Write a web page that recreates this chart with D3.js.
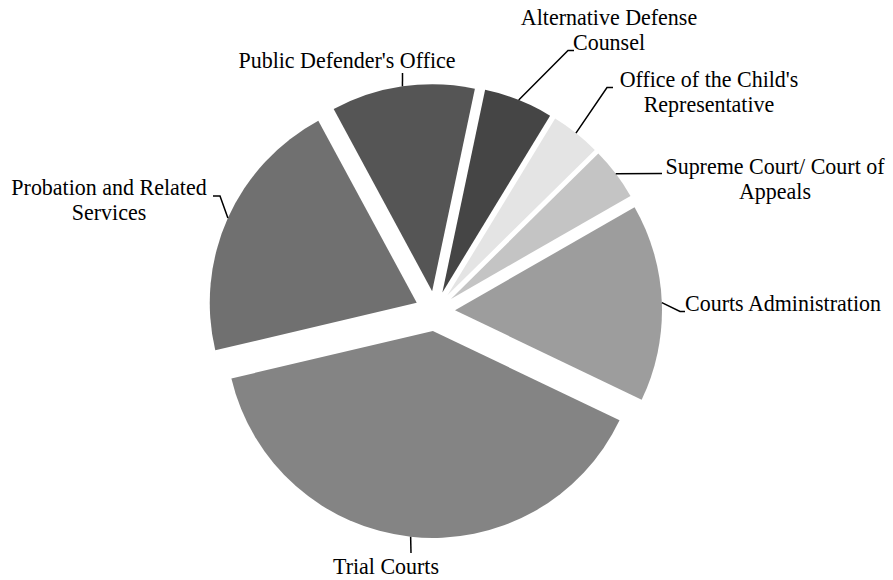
<!DOCTYPE html>
<html>
<head>
<meta charset="utf-8">
<script src="https://cdn.jsdelivr.net/npm/d3@7"></script>
<style>
  html, body { margin: 0; padding: 0; background: #ffffff; }
  svg { display: block; }
  text { font-family: "Liberation Serif", "Times New Roman", serif; font-size: 22px; fill: #000; }
</style>
</head>
<body>
<svg id="chart" width="893" height="580"></svg>
<script>
// ---- Data (clockwise order) ----
const categories = [
  "Supreme Court/ Court of Appeals",
  "Courts Administration",
  "Trial Courts",
  "Probation and Related Services",
  "Public Defender's Office",
  "Alternative Defense Counsel",
  "Office of the Child's Representative"
];
const shares = [4.1, 15.4, 39.2, 20.8, 11.2, 5.4, 3.9];
const labelLines = [
  ["Supreme Court/ Court of", "Appeals"],
  ["Courts Administration"],
  ["Trial Courts"],
  ["Probation and Related", "Services"],
  ["Public Defender's Office"],
  ["Alternative Defense", "Counsel"],
  ["Office of the Child's", "Representative"]
];
const fills = ["#c4c4c4", "#9d9d9d", "#848484", "#707070", "#555555", "#454545", "#e4e4e4"];

// ---- Layout ----
const W = 893, H = 580;
const cx = 435, cy = 311, R = 207, explode = 20;
const startDeg = 45.4;
const lineH = 25.5;
const textStretch = 1.08;
// label layout: text centre x, first baseline y, leader elbow points
const labelLayout = [
  { x: 775, y: 173.5, leader: [[662, 173.5]] },
  { x: 783, y: 310.5, leader: [[680, 311.5], [685, 311.5]] },
  { x: 386, y: 574, leader: [[411, 553]] },
  { x: 109, y: 195, leader: [[220, 196], [213, 196]] },
  { x: 347, y: 68, leader: [[402.5, 73]] },
  { x: 609, y: 25, leader: [[568, 50.5], [574, 50.5]] },
  { x: 709, y: 87, leader: [[607, 87.5], [613, 87.5]] }
];

const data = categories.map((c, i) => ({ name: c, value: shares[i], fill: fills[i], lines: labelLines[i], layout: labelLayout[i] }));

const svg = d3.select("#chart");
const g = svg.append("g").attr("transform", `translate(${cx},${cy})`);

const a0 = startDeg * Math.PI / 180;
const pie = d3.pie().sort(null).value(d => d.value).startAngle(a0).endAngle(a0 + 2 * Math.PI);
const arc = d3.arc().innerRadius(0).outerRadius(R);
const arcs = pie(data);

const offset = d => {
  const m = (d.startAngle + d.endAngle) / 2;
  return [explode * Math.sin(m), -explode * Math.cos(m)];
};

g.selectAll("path.slice")
  .data(arcs)
  .join("path")
  .attr("class", "slice")
  .attr("d", arc)
  .attr("fill", d => d.data.fill)
  .attr("transform", d => { const o = offset(d); return `translate(${o[0]},${o[1]})`; });

// leader lines (start at the slice's outer edge at its mid angle)
const line = d3.line();
svg.selectAll("path.leader")
  .data(arcs)
  .join("path")
  .attr("class", "leader")
  .attr("fill", "none")
  .attr("stroke", "#000")
  .attr("stroke-width", 1.5)
  .attr("d", d => {
    const m = (d.startAngle + d.endAngle) / 2;
    const rr = R + explode;
    const p0 = [cx + rr * Math.sin(m), cy - rr * Math.cos(m)];
    return line([p0, ...d.data.layout.leader]);
  });

// labels
const labelGroups = svg.selectAll("g.lbl")
  .data(data)
  .join("g")
  .attr("class", "lbl")
  .attr("transform", d => `translate(${d.layout.x},${d.layout.y}) scale(1,${textStretch})`);
labelGroups.each(function(d) {
  const t = d3.select(this).append("text").attr("text-anchor", "middle");
  d.lines.forEach((s, i) => {
    t.append("tspan").attr("x", 0).attr("y", i * lineH / textStretch).text(s);
  });
});
</script>
</body>
</html>
